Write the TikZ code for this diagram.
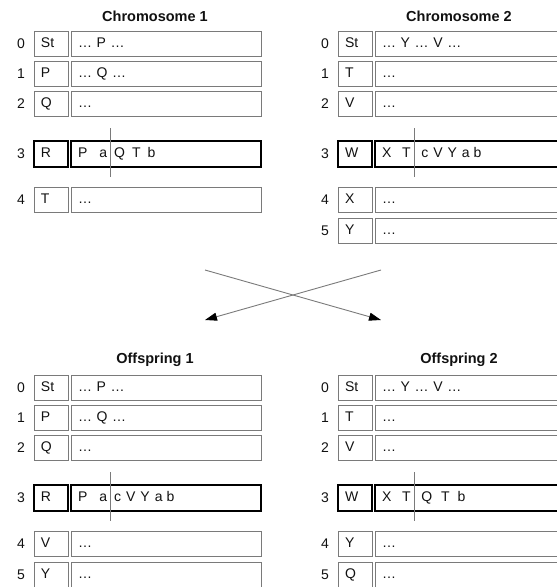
\documentclass[tikz,border=0pt]{standalone}
\usepackage{fontspec}
\setmainfont{Liberation Sans}
\usetikzlibrary{arrows.meta}
\definecolor{boxgray}{HTML}{7A7A7A}
\definecolor{txt}{HTML}{111111}
\tikzset{
  base/.style={font=\fontsize{14}{16}\selectfont, text=txt, inner ysep=0pt, outer sep=0pt,
    text height=10pt, text depth=3pt, align=left, anchor=west},
  lbl/.style={base, draw=boxgray, line width=0.9pt, minimum width=34pt, minimum height=25pt,
    text width=20pt, inner xsep=7pt},
  gene/.style={base, draw=boxgray, line width=0.9pt, minimum width=190pt, minimum height=25pt,
    text width=176pt, inner xsep=7pt},
  hot/.style={draw=black, line width=1.8pt, minimum height=26pt},
  num/.style={font=\fontsize{14}{16}\selectfont, text=txt, inner sep=0pt},
  ttl/.style={font=\bfseries\fontsize{14.5}{16}\selectfont, text=txt, inner sep=0pt},
  xover/.style={draw=boxgray, line width=0.9pt},
  arr/.style={draw=boxgray, line width=0.9pt, -{Triangle[length=12pt,width=8pt,fill=black,color=black]}}
}
\newcommand\crow[7]{%
  \node[num] (#1n) at (21+#2,#3) {#4};
  \node[lbl,#7] (#1l) at (34+#2,#3) {#5};
  \node[gene,#7] (#1g) at (71+#2,#3) {#6};
}
\begin{document}
\begin{tikzpicture}[x=1pt,y=-1pt]
\path[use as bounding box] (0,0) rectangle (557,587);
\begin{scope}
\clip (0,0) rectangle (557,587);
% Chromosome 1
\node[ttl] (t1) at (155,16) {Chromosome 1};
\crow{ca0}{0}{43.5}{0}{St}{… P …}{}
\crow{ca1}{0}{73.5}{1}{P}{… Q …}{}
\crow{ca2}{0}{103.5}{2}{Q}{…}{}
\crow{ca3}{0}{154}{3}{R}{P\hspace{12pt}a\hspace{7pt}Q\hspace{7pt}T\hspace{7pt}b}{hot}
\crow{ca4}{0}{199.5}{4}{T}{…}{}
\coordinate (xa1) at (110,128); \coordinate (xa2) at (110,177);
\draw[xover] (xa1) -- (xa2);
% Chromosome 2
\node[ttl] (t2) at (459,16) {Chromosome 2};
\crow{cb0}{304}{43.5}{0}{St}{… Y … V …}{}
\crow{cb1}{304}{73.5}{1}{T}{…}{}
\crow{cb2}{304}{103.5}{2}{V}{…}{}
\crow{cb3}{304}{154}{3}{W}{X\hspace{10.7pt}T\hspace{10.7pt}c\hspace{5pt}V\hspace{5pt}Y\hspace{5pt}a\hspace{4pt}b}{hot}
\crow{cb4}{304}{199.5}{4}{X}{…}{}
\crow{cb5}{304}{230.5}{5}{Y}{…}{}
\coordinate (xb1) at (414,128); \coordinate (xb2) at (414,177);
\draw[xover] (xb1) -- (xb2);
% crossing arrows
\coordinate (p1) at (205,270); \coordinate (p2) at (381,270);
\coordinate (q1) at (205,320); \coordinate (q2) at (381,320);
\draw[arr] (p1) -- (q2);
\draw[arr] (p2) -- (q1);
% Offspring 1
\node[ttl] (t3) at (155,360) {Offspring 1};
\crow{oa0}{0}{387.5}{0}{St}{… P …}{}
\crow{oa1}{0}{417.5}{1}{P}{… Q …}{}
\crow{oa2}{0}{447.5}{2}{Q}{…}{}
\crow{oa3}{0}{498}{3}{R}{P\hspace{12pt}a\hspace{7pt}c\hspace{5pt}V\hspace{5pt}Y\hspace{5pt}a\hspace{4pt}b}{hot}
\crow{oa4}{0}{543.5}{4}{V}{…}{}
\crow{oa5}{0}{574.5}{5}{Y}{…}{}
\coordinate (xc1) at (110,472); \coordinate (xc2) at (110,521);
\draw[xover] (xc1) -- (xc2);
% Offspring 2
\node[ttl] (t4) at (459,360) {Offspring 2};
\crow{ob0}{304}{387.5}{0}{St}{… Y … V …}{}
\crow{ob1}{304}{417.5}{1}{T}{…}{}
\crow{ob2}{304}{447.5}{2}{V}{…}{}
\crow{ob3}{304}{498}{3}{W}{X\hspace{10.7pt}T\hspace{10.7pt}Q\hspace{9pt}T\hspace{8pt}b}{hot}
\crow{ob4}{304}{543.5}{4}{Y}{…}{}
\crow{ob5}{304}{574.5}{5}{Q}{…}{}
\coordinate (xd1) at (414,472); \coordinate (xd2) at (414,521);
\draw[xover] (xd1) -- (xd2);
\end{scope}
\end{tikzpicture}
\end{document}
